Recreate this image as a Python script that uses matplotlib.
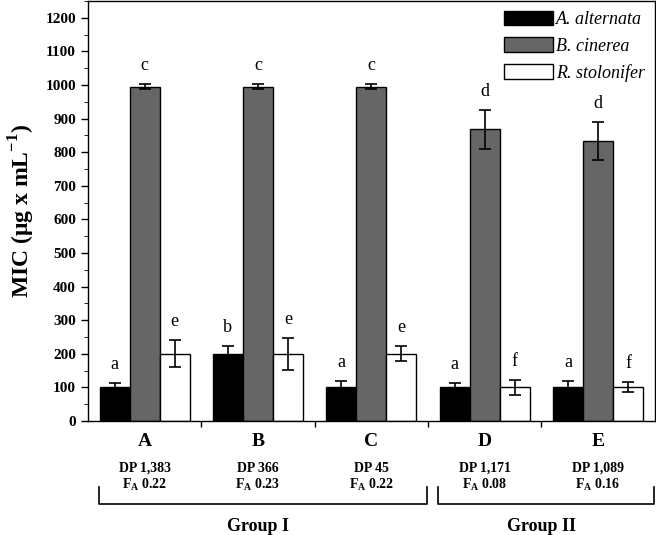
import matplotlib
matplotlib.use("Agg")
import matplotlib.pyplot as plt
import matplotlib.transforms as mtransforms
from matplotlib.ticker import MultipleLocator
import numpy as np

plt.rcParams["font.family"] = ["Liberation Serif", "DejaVu Serif"]
plt.rcParams["mathtext.fontset"] = "custom"
plt.rcParams["mathtext.rm"] = "Liberation Serif"
plt.rcParams["mathtext.bf"] = "Liberation Serif:bold"

# samples and their descriptors
samples = ["A", "B", "C", "D", "E"]
dp_labels = ["1,383", "366", "45", "1,171", "1,089"]
fa_labels = ["0.22", "0.23", "0.22", "0.08", "0.16"]

# MIC means and error (ug/mL) per fungus
species = ["A. alternata", "B. cinerea", "R. stolonifer"]
alt_mean = [100, 200, 100, 100, 100]
alt_err = [12, 22, 20, 12, 20]
cin_mean = [995, 995, 995, 868, 833]
cin_err = [8, 8, 8, 57, 57]
sto_mean = [200, 200, 200, 100, 100]
sto_err = [40, 48, 22, 22, 15]

# significance letters
alt_sig = ["a", "b", "a", "a", "a"]
cin_sig = ["c", "c", "c", "d", "d"]
sto_sig = ["e", "e", "e", "f", "f"]

groups = ["Group I", "Group II"]

fig = plt.figure(figsize=(6.56, 5.35), dpi=100)
ax = fig.add_axes([0.134, 0.213, 0.864, 0.785])

x = np.arange(len(samples))
w = 0.265
colors = ["black", "#666666", "white"]
means = [alt_mean, cin_mean, sto_mean]
errs = [alt_err, cin_err, sto_err]
sigs = [alt_sig, cin_sig, sto_sig]

for i in range(3):
    xi = x + (i - 1) * w
    ax.bar(xi, means[i], w, color=colors[i], edgecolor="black", linewidth=1.0,
           label=species[i], zorder=2)
    ax.errorbar(xi, means[i], yerr=errs[i], fmt="none", ecolor="black",
                elinewidth=1.2, capsize=4, capthick=1.2, zorder=3)
    for xx, m, e, s in zip(xi, means[i], errs[i], sigs[i]):
        ax.text(xx, m + e + 55, s, ha="center", va="center", fontsize=13)

ax.set_xlim(-0.5, 4.5)
ax.set_ylim(0, 1250)
ax.yaxis.set_major_locator(MultipleLocator(100))
ax.yaxis.set_minor_locator(MultipleLocator(50))
ax.set_yticks(np.arange(0, 1201, 100))
ax.set_xticks([0.5, 1.5, 2.5, 3.5])
ax.set_xticklabels([])
ax.tick_params(axis="both", direction="out", width=1.0)
ax.tick_params(axis="y", which="major", length=5, labelsize=11)
ax.tick_params(axis="y", which="minor", length=3)
ax.tick_params(axis="x", length=4)
for lab in ax.get_yticklabels():
    lab.set_fontweight("bold")
for sp in ax.spines.values():
    sp.set_linewidth(1.0)

ax.set_ylabel(r"MIC ($\mathbf{\mu}$g x mL$^{\mathbf{-1}}$)", fontsize=17,
              fontweight="bold", labelpad=6)

ax.legend(loc="upper right", frameon=False, prop={"style": "italic", "size": 13},
          handlelength=2.7, handleheight=0.85, handletextpad=0.15,
          labelspacing=0.5, borderaxespad=0.15)

# annotations under the axis
trans = mtransforms.blended_transform_factory(ax.transData, fig.transFigure)
for xx, name, dp, fa in zip(x, samples, dp_labels, fa_labels):
    ax.text(xx, 0.174, name, transform=trans, ha="center", va="center",
            fontsize=14, fontweight="bold")
    ax.text(xx, 0.125, "DP " + dp, transform=trans, ha="center", va="center",
            fontsize=10, fontweight="bold")
    ax.text(xx, 0.094, r"F$_{\mathbf{A}}$ " + fa, transform=trans, ha="center",
            va="center", fontsize=10, fontweight="bold")

# group brackets
brackets = [(-0.40, 2.49), (2.59, 4.49)]
for (x0, x1), g in zip(brackets, groups):
    ax.plot([x0, x0, x1, x1], [0.090, 0.058, 0.058, 0.090], color="black",
            lw=1.2, transform=trans, clip_on=False)
ax.text(1.0, 0.015, groups[0], transform=trans, ha="center", va="center",
        fontsize=13, fontweight="bold")
ax.text(3.5, 0.015, groups[1], transform=trans, ha="center", va="center",
        fontsize=13, fontweight="bold")

fig.savefig("out.png", dpi=100)
